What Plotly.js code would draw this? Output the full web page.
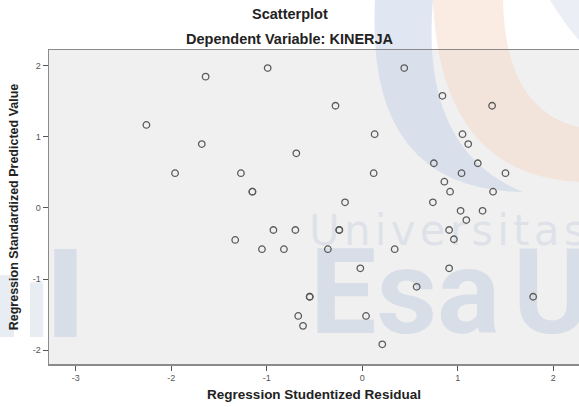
<!DOCTYPE html>
<html>
<head>
<meta charset="utf-8">
<script src="https://cdn.plot.ly/plotly-3.0.1.min.js"></script>
<style>html,body{margin:0;padding:0;background:#fff;}#chart{width:579px;height:407px;}</style>
</head>
<body>
<div id="chart"></div>
<script>
// Regression Studentized Residual (x) and Regression Standardized Predicted Value (y)
var residual = [-2.26, -1.64, -0.99, 0.44, 0.84, -1.96, -1.68, -1.27, -1.15, -1.15, -0.69, -0.28, 0.13, 0.12, -0.18,
  1.36, 1.05, 1.11, 0.75, 1.21, 0.86, 1.04, 1.50, 0.92, 1.37, 0.74, 1.03, 1.26, 1.09, 0.91, 0.96,
  -0.24, -0.24, -0.93, -0.70, -1.33, -1.05, -0.82, -0.36, 0.34, -0.02, 0.91, 0.57, -0.55, -0.55, 1.79,
  -0.67, -0.62, 0.04, 0.21];
var predicted = [1.17, 1.85, 1.97, 1.97, 1.58, 0.49, 0.90, 0.49, 0.23, 0.23, 0.77, 1.44, 1.04, 0.49, 0.08,
  1.44, 1.04, 0.90, 0.63, 0.63, 0.37, 0.49, 0.49, 0.23, 0.23, 0.08, -0.04, -0.04, -0.17, -0.31, -0.44,
  -0.31, -0.31, -0.31, -0.31, -0.45, -0.58, -0.58, -0.58, -0.58, -0.85, -0.85, -1.11, -1.25, -1.25, -1.25,
  -1.52, -1.66, -1.52, -1.92];
var xTicks = [-3, -2, -1, 0, 1, 2];
var yTicks = [-2, -1, 0, 1, 2];
var chartTitle = 'Scatterplot';
var chartSubtitle = 'Dependent Variable: KINERJA';
var xTitle = 'Regression Studentized Residual';
var yTitle = 'Regression Standardized Predicted Value';

var font = 'Liberation Sans, Arial, sans-serif';
var trace = {
  x: residual, y: predicted, type: 'scatter', mode: 'markers',
  marker: {symbol: 'circle-open', size: 6.5, color: '#5a5a5a', line: {width: 1.3, color: '#5a5a5a'}},
  hoverinfo: 'x+y', showlegend: false
};

// decorative watermark helpers (paper coordinates)
function px(x) { return ((x - 49) / 530).toFixed(4); }
function py(y) { return ((364 - y) / 314).toFixed(4); }
function P(x, y) { return px(x) + ',' + py(y); }
var bluePath = 'M ' + P(375, 0) + ' Q ' + P(365, 190) + ' ' + P(523, 192) + ' Q ' + P(420, 150) + ' ' + P(433, 0) + ' Z';
var orangePath = 'M ' + P(433, 0) + ' Q ' + P(440, 175) + ' ' + P(579, 182) + ' L ' + P(579, 127) + ' Q ' + P(505, 110) + ' ' + P(503, 0) + ' Z';
var cornerPath = 'M ' + P(550, 0) + ' Q ' + P(565, 25) + ' ' + P(579, 40) + ' L ' + P(579, 0) + ' Z';
var hs = '\u200A';
var wm = 'rgba(208,216,228,0.75)';

var layout = {
  width: 579, height: 407,
  margin: {l: 49, r: 0, t: 50, b: 43},
  paper_bgcolor: '#ffffff', plot_bgcolor: '#f0f0f0',
  font: {family: font, color: '#333'},
  xaxis: {range: [-3.28, 2.27], tickvals: xTicks, ticktext: xTicks.map(String), showgrid: false, zeroline: false,
    showline: true, mirror: true, linecolor: '#8a8a8a', linewidth: 1.5,
    ticks: 'outside', ticklen: 5, tickcolor: '#555', tickfont: {size: 9, color: '#555', family: font},
    title: {text: '<b>' + xTitle + '</b>', font: {size: 13.5, color: '#222', family: font}, standoff: 7}},
  yaxis: {range: [-2.197, 2.225], tickvals: yTicks, ticktext: yTicks.map(String), showgrid: false, zeroline: false,
    showline: true, mirror: true, linecolor: '#8a8a8a', linewidth: 1.5,
    ticks: 'outside', ticklen: 5, tickcolor: '#555', tickfont: {size: 9, color: '#555', family: font},
    title: {text: '<b>' + yTitle + '</b>', font: {size: 12.5, color: '#222', family: font}, standoff: 11}},
  shapes: [
    {type: 'path', xref: 'paper', yref: 'paper', path: bluePath, layer: 'below',
      fillcolor: 'rgba(200,212,232,0.55)', line: {width: 0}},
    {type: 'path', xref: 'paper', yref: 'paper', path: orangePath, layer: 'below',
      fillcolor: 'rgba(245,212,190,0.45)', line: {width: 0}},
    {type: 'path', xref: 'paper', yref: 'paper', path: cornerPath, layer: 'below',
      fillcolor: 'rgba(210,218,232,0.45)', line: {width: 0}},
    {type: 'rect', xref: 'paper', yref: 'paper', x0: 0.01, x1: 0.052, y0: 0.086, y1: 0.366, layer: 'below',
      fillcolor: 'rgba(212,220,231,0.9)', line: {width: 0}},
    {type: 'rect', xref: 'paper', yref: 'paper', x0: -0.0925, x1: -0.066, y0: 0.086, y1: 0.283, layer: 'below',
      fillcolor: 'rgba(232,236,243,1)', line: {width: 0}},
    {type: 'rect', xref: 'paper', yref: 'paper', x0: -0.036, x1: -0.011, y0: 0.086, y1: 0.26, layer: 'below',
      fillcolor: 'rgba(232,236,243,1)', line: {width: 0}},
    {type: 'rect', xref: 'paper', yref: 'paper', x0: 0.485, x1: 1.05, y0: 0.39, y1: 0.48, layer: 'below',
      fillcolor: 'rgba(0,0,0,0)', line: {width: 0},
      label: {text: 'Universitas'.split('').join(hs), font: {size: 42, color: 'rgba(210,218,228,0.6)', family: 'DejaVu Sans, sans-serif'}, textposition: 'middle left', padding: 0}},
    {type: 'rect', xref: 'paper', yref: 'paper', x0: 0.487, x1: 0.85, y0: 0.155, y1: 0.355, layer: 'below',
      fillcolor: 'rgba(0,0,0,0)', line: {width: 0},
      label: {text: '<b>Esa</b>', font: {size: 118, color: wm, family: 'Roboto, Liberation Sans, sans-serif'}, textposition: 'middle left', padding: 0}},
    {type: 'rect', xref: 'paper', yref: 'paper', x0: 0.87, x1: 1.1, y0: 0.155, y1: 0.355, layer: 'below',
      fillcolor: 'rgba(0,0,0,0)', line: {width: 0},
      label: {text: '<b>U</b>', font: {size: 118, color: wm, family: 'Roboto, Liberation Sans, sans-serif'}, textposition: 'middle left', padding: 0}}
  ],
  annotations: [
    {text: '<b>' + chartTitle + '</b>', xref: 'paper', yref: 'paper', x: 0.455, y: 1, yanchor: 'bottom',
      showarrow: false, font: {size: 14.5, color: '#222', family: font}, xanchor: 'center', yshift: 26},
    {text: '<b>' + chartSubtitle + '</b>', xref: 'paper', yref: 'paper', x: 0.455, y: 1, yanchor: 'bottom',
      showarrow: false, font: {size: 14.5, color: '#222', family: font}, xanchor: 'center', yshift: 1}
  ]
};
Plotly.newPlot('chart', [trace], layout, {displayModeBar: false, staticPlot: true});
</script>
</body>
</html>
